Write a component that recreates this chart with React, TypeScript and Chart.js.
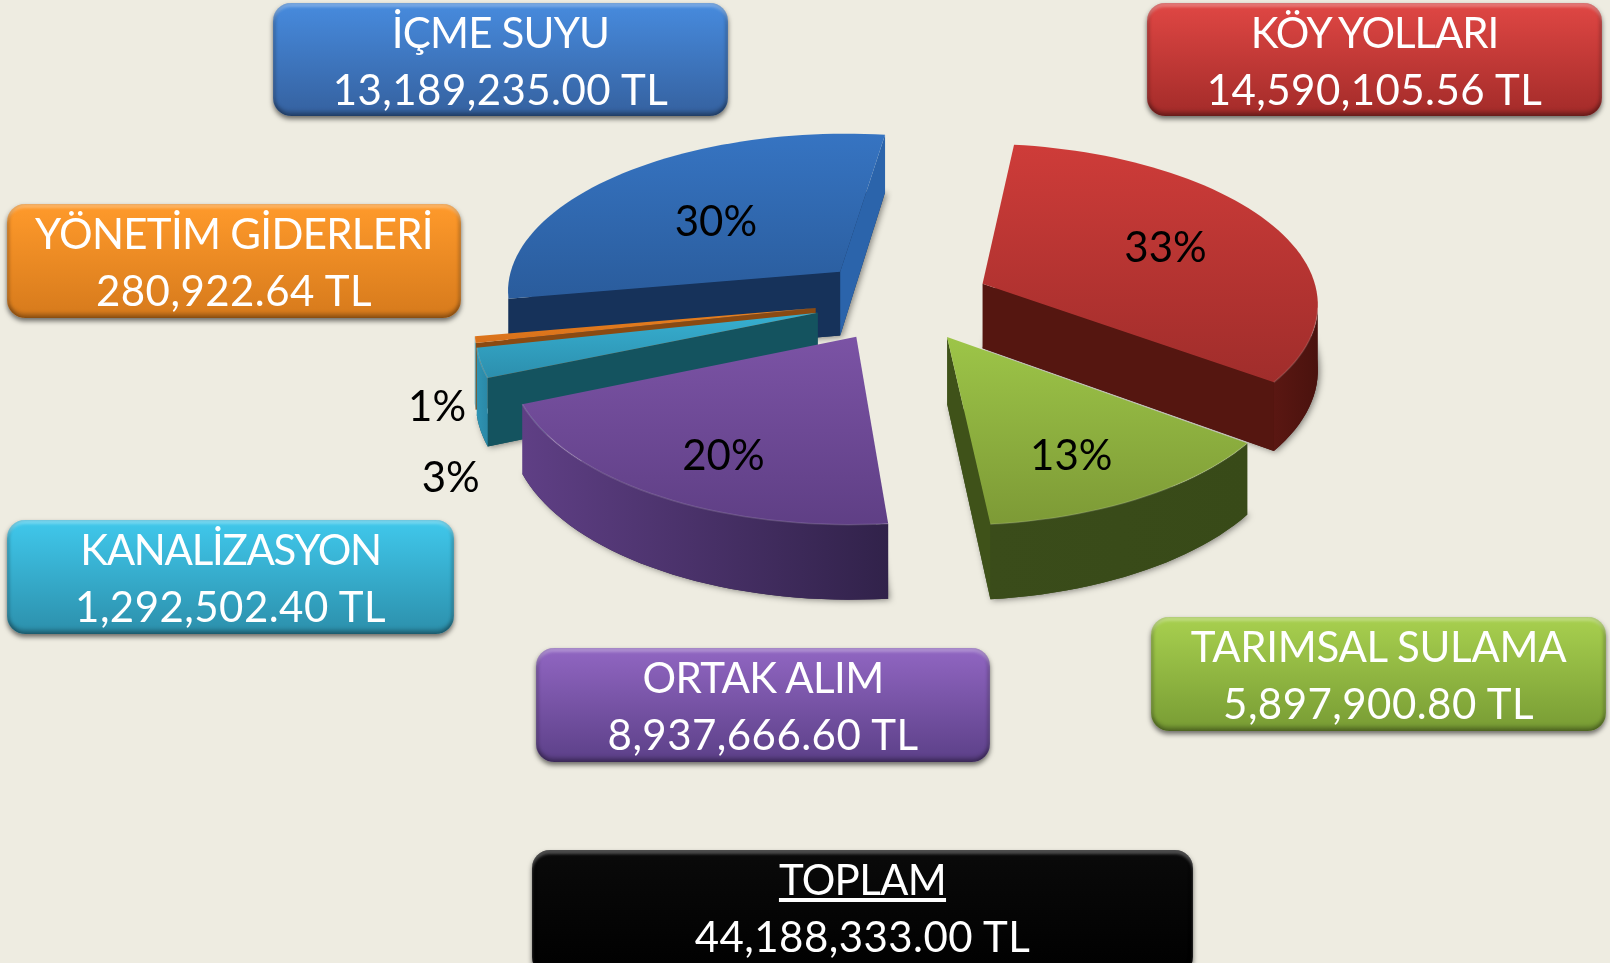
import React, { useEffect, useRef } from "react";
import { Chart, registerables } from "chart.js";

Chart.register(...registerables);

const categories = ["KÖY YOLLARI", "TARIMSAL SULAMA", "ORTAK ALIM", "KANALİZASYON", "YÖNETİM GİDERLERİ", "İÇME SUYU"];
const amounts = [14590105.56, 5897900.8, 8937666.6, 1292502.4, 280922.64, 13189235.0];
const totalLabel = "TOPLAM";
const totalAmount = 44188333.0;

const topFrom = ["#CE3C39", "#9DC548", "#7B53A5", "#37B0D2", "#E8821F", "#3674C2"];
const topTo = ["#A02D2B", "#7D9A36", "#5F3F85", "#2C8FAD", "#D8701A", "#2A5C9C"];
const startWall = ["#4A120E", "#3A4C1A", "#33234A", "#14535F", "#8A4A12", "#16325A"];
const endWall = ["#551610", "#3F5219", "#5F3F85", "#2F94B4", "#C8701F", "#2B64AB"];
const rimLeft = ["#5A1712", "#3A4C1A", "#5F3F85", "#2F94B4", "#2F94B4", "#16325A"];
const rimRight = ["#4A120E", "#384A18", "#31224A", "#2A88A6", "#2F94B4", "#16325A"];
const drawOrder = [5, 0, 4, 3, 1, 2];
// [radial fraction of the label anchor, extra x, extra y]
const labelPlace = [
  [0.6, 6, 0],
  [0.72, -11, 7],
  [0.72, 7, 9],
  [1.0, -30, 116],
  [1.0, -38, 68],
  [0.55, -1, 7],
];

const boxes = [
  { x: 1147, y: 3, w: 455, h: 113, a: "#E04744", b: "#A32B29", ls: -1.1 },
  { x: 1151, y: 617, w: 455, h: 114, a: "#A8D04F", b: "#789C34", ls: -0.3 },
  { x: 536, y: 648, w: 454, h: 114, a: "#9166C2", b: "#5C4088", ls: -0.6 },
  { x: 7, y: 520, w: 447, h: 114, a: "#40C8EC", b: "#2C8FAB", ls: -1.3 },
  { x: 7, y: 204, w: 454, h: 114, a: "#FF9A2B", b: "#D67A1C", ls: -0.7 },
  { x: 273, y: 3, w: 455, h: 113, a: "#478BDE", b: "#35619F", ls: -0.8 },
];

const money = (v: number) =>
  v.toLocaleString("en-US", { minimumFractionDigits: 2, maximumFractionDigits: 2 }) + " TL";

const SQUASH = 0.473;
const PERSPECTIVE = 0.109;
const DEPTH = 65;

const pie3d = {
  id: "pie3d",
  beforeDatasetsDraw(chart: any) {
    const ctx = chart.ctx as CanvasRenderingContext2D;
    const arcs = chart.getDatasetMeta(0).data;
    const ds = chart.data.datasets[0];
    const total = ds.data.reduce((a: number, b: number) => a + b, 0);
    const R0 = arcs[0].outerRadius;
    const cx = arcs[0].x;
    const cy = arcs[0].y;

    const proj = (X: number, Y: number, Z: number) => {
      const p = 1 / (1 + (PERSPECTIVE * Y) / R0);
      return [cx + X * p, cy - SQUASH * Y * p + Z * p];
    };
    const poly = (pts: number[][], fill: any) => {
      ctx.beginPath();
      pts.forEach((q, i) => (i ? ctx.lineTo(q[0], q[1]) : ctx.moveTo(q[0], q[1])));
      ctx.closePath();
      ctx.fillStyle = fill;
      ctx.fill();
    };
    const area = (p: number[][]) => {
      let s = 0;
      p.forEach((q, i) => {
        const n = p[(i + 1) % p.length];
        s += q[0] * n[1] - n[0] * q[1];
      });
      return s / 2;
    };

    for (const i of drawOrder) {
      const el = arcs[i];
      const off = el.options.offset;
      const mid = (el.startAngle + el.endAngle) / 2;
      const ox = off * Math.cos(mid);
      const oy = -off * Math.sin(mid);
      const pt = (a: number, r: number, z: number) =>
        proj(ox + r * Math.cos(a), oy - r * Math.sin(a), z);
      const N = Math.max(6, Math.ceil(((el.endAngle - el.startAngle) * 180) / Math.PI / 2));
      const angs: number[] = [];
      for (let k = 0; k <= N; k++) angs.push(el.startAngle + ((el.endAngle - el.startAngle) * k) / N);
      const R = el.outerRadius;
      const tipT = pt(0, 0, 0);
      const tipB = pt(0, 0, DEPTH);
      const rimT = angs.map((a) => pt(a, R, 0));
      const rimB = angs.map((a) => pt(a, R, DEPTH));
      const facing = (k: number) => [rimT[k], rimT[k + 1], rimB[k + 1], rimB[k]];

      // soft ground shadow under the slice
      if (i !== 4) {
        ctx.save();
        ctx.shadowColor = "rgba(0,0,0,0.45)";
        ctx.shadowBlur = 6;
        ctx.shadowOffsetX = 2;
        ctx.shadowOffsetY = 1;
        poly([tipB, ...rimB], startWall[i]);
        ctx.restore();
      }

      // walls, back faces culled by screen winding
      const wallA = [tipT, rimT[0], rimB[0], tipB];
      if (area(wallA) < 0) poly(wallA, startWall[i]);
      const wallB = [rimT[N], tipT, tipB, rimB[N]];
      if (area(wallB) < 0) poly(wallB, endWall[i]);

      // visible part of the outer rim as one band with a horizontal gradient
      const vis: number[] = [];
      for (let k = 0; k < N; k++) if (area(facing(k)) < 0) vis.push(k);
      if (vis.length) {
        const a = vis[0];
        const b = vis[vis.length - 1] + 1;
        const upper = rimT.slice(a, b + 1);
        const lower = rimB.slice(a, b + 1).reverse();
        const band = [...upper, ...lower];
        const xs = band.map((q) => q[0]);
        const rg = ctx.createLinearGradient(Math.min(...xs), 0, Math.max(...xs), 0);
        rg.addColorStop(0, rimLeft[i]);
        rg.addColorStop(1, rimRight[i]);
        poly(band, rg);
      }

      // top face
      const top = [tipT, ...rimT];
      const ys = top.map((q) => q[1]);
      const g = ctx.createLinearGradient(0, Math.min(...ys), 0, Math.max(...ys));
      g.addColorStop(0, topFrom[i]);
      g.addColorStop(1, topTo[i]);
      poly(top, g);

      // bright bevel along the visible front rim
      if (vis.length) {
        ctx.beginPath();
        ctx.moveTo(rimT[vis[0]][0], rimT[vis[0]][1]);
        for (const k of vis) ctx.lineTo(rimT[k + 1][0], rimT[k + 1][1]);
        ctx.strokeStyle = "rgba(255,255,255,0.14)";
        ctx.lineWidth = 1.5;
        ctx.stroke();
      }
    }

    // percentage labels
    ctx.fillStyle = "#000";
    ctx.font = "42px Lato";
    ctx.textAlign = "center";
    ctx.textBaseline = "middle";
    arcs.forEach((el: any, i: number) => {
      const mid = (el.startAngle + el.endAngle) / 2;
      const off = el.options.offset;
      const [f, dx, dy] = labelPlace[i];
      const r = off + el.outerRadius * f;
      const q = proj(r * Math.cos(mid), -r * Math.sin(mid), 0);
      ctx.fillText(Math.round((ds.data[i] / total) * 100) + "%", q[0] + dx, q[1] + dy);
    });
    return false;
  },
};

function Box(props: { b: any; title: string; value: string; underline?: boolean }) {
  const { b, title, value, underline } = props;
  return (
    <div
      style={{
        position: "absolute",
        left: b.x,
        top: b.y,
        width: b.w,
        height: b.h,
        borderRadius: 18,
        background: `linear-gradient(${b.a}, ${b.b})`,
        boxShadow:
          "inset 0 4px 3px rgba(255,255,255,0.28), inset 0 -4px 4px rgba(0,0,0,0.3), inset 3px 0 3px rgba(0,0,0,0.12), inset -3px 0 3px rgba(0,0,0,0.12), 0 3px 5px rgba(0,0,0,0.55)",
        color: "#fff",
        font: "42px/57px Lato",
        textAlign: "center",
        boxSizing: "border-box",
        paddingTop: 1,
        whiteSpace: "nowrap",
      }}
    >
      <div style={{ textDecoration: underline ? "underline" : "none", letterSpacing: b.ls }}>{title}</div>
      <div style={{ letterSpacing: 0.45 }}>{value}</div>
    </div>
  );
}

export default function App() {
  const ref = useRef<HTMLCanvasElement>(null);
  useEffect(() => {
    const chart = new Chart(ref.current as HTMLCanvasElement, {
      type: "pie",
      data: {
        labels: categories,
        datasets: [{ data: amounts, backgroundColor: topTo, borderWidth: 0, offset: 88, radius: 336 } as any],
      },
      options: {
        responsive: false,
        animation: false,
        rotation: 7.5,
        layout: { padding: { left: 195, bottom: 363 } },
        plugins: { legend: { display: false }, tooltip: { enabled: false }, title: { display: false } },
      },
      plugins: [pie3d as any],
    });
    return () => chart.destroy();
  }, []);
  return (
    <div style={{ position: "absolute", left: 0, top: 0, width: 1610, height: 963, overflow: "hidden", background: "#EEECE1" }}>
      <canvas ref={ref} width={1610} height={963} style={{ position: "absolute", left: 0, top: 0 }} />
      {boxes.map((b, i) => (
        <Box key={i} b={b} title={categories[i]} value={money(amounts[i])} />
      ))}
      <Box b={{ x: 532, y: 850, w: 661, h: 125, a: "#0A0A0A", b: "#000000", ls: -0.7 }} title={totalLabel} value={money(totalAmount)} underline />
    </div>
  );
}
